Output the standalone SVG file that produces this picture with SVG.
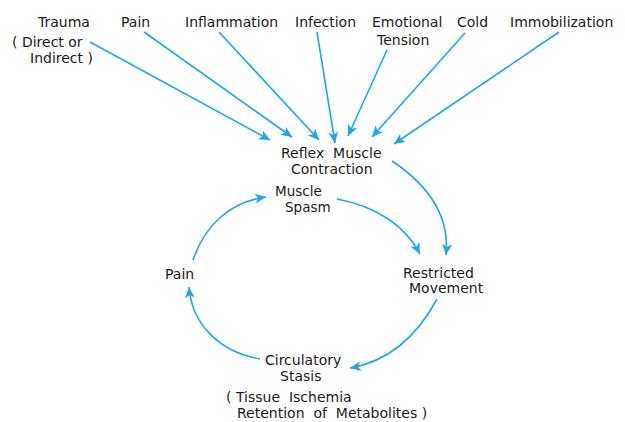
<svg xmlns="http://www.w3.org/2000/svg" width="625" height="422" viewBox="0 0 625 422">
<style>
text{font-family:"DejaVu Sans","Liberation Sans",sans-serif;font-size:14px;fill:#1a1a1a}
.s{font-size:13.5px}
.c{fill:none;stroke:#1ba8e8;stroke-width:1.6}
</style>
<defs>
<marker id="ah" markerUnits="userSpaceOnUse" markerWidth="12" markerHeight="10" refX="11" refY="5" orient="auto">
<path d="M0,0 L11,5 L0,10 L3,5 z" fill="#1ba8e8"/>
</marker>
</defs>
<rect width="625" height="422" fill="#fff"/>
<g id="connectors">
<path class="c" d="M90,42 L270,140" marker-end="url(#ah)"/>
<path class="c" d="M144,32 L292,137" marker-end="url(#ah)"/>
<path class="c" d="M219,32 L319,140" marker-end="url(#ah)"/>
<path class="c" d="M317,32 L335,143" marker-end="url(#ah)"/>
<path class="c" d="M387,50 L348,136" marker-end="url(#ah)"/>
<path class="c" d="M465,33 L372,137" marker-end="url(#ah)"/>
<path class="c" d="M559,32 L394,144" marker-end="url(#ah)"/>
<path class="c" d="M392,161 C428,185 450,215 446,255" marker-end="url(#ah)"/>
<path class="c" d="M337,199 C375,206 405,225 420,254" marker-end="url(#ah)"/>
<path class="c" d="M437,299 C415,340 385,362 350,368" marker-end="url(#ah)"/>
<path class="c" d="M260,359 C220,352 192,325 189,287" marker-end="url(#ah)"/>
<path class="c" d="M193,260 C205,225 230,202 266,197" marker-end="url(#ah)"/>
</g>
<g id="trauma"><text x="38" y="27">Trauma</text><text x="12" y="47">( Direct or</text><text x="30" y="63">Indirect )</text></g>
<g id="pain-top"><text x="121" y="27">Pain</text></g>
<g id="inflammation"><text x="185" y="27">Inflammation</text></g>
<g id="infection"><text x="295" y="27">Infection</text></g>
<g id="emotional"><text x="372" y="27">Emotional</text><text x="377" y="45">Tension</text></g>
<g id="cold"><text x="457" y="27">Cold</text></g>
<g id="immobilization"><text x="510" y="27">Immobilization</text></g>
<g id="reflex"><text x="281" y="158" xml:space="preserve">Reflex  Muscle</text><text x="291" y="174">Contraction</text></g>
<g id="spasm"><text class="s" x="275" y="196">Muscle</text><text class="s" x="285" y="212">Spasm</text></g>
<g id="pain"><text x="165" y="279">Pain</text></g>
<g id="restricted"><text x="403" y="278">Restricted</text><text x="409" y="293">Movement</text></g>
<g id="circulatory"><text x="265" y="365">Circulatory</text><text x="280" y="381">Stasis</text><text x="226" y="402" xml:space="preserve">( Tissue  Ischemia</text><text x="237" y="418" xml:space="preserve">Retention  of  Metabolites )</text></g>
</svg>
